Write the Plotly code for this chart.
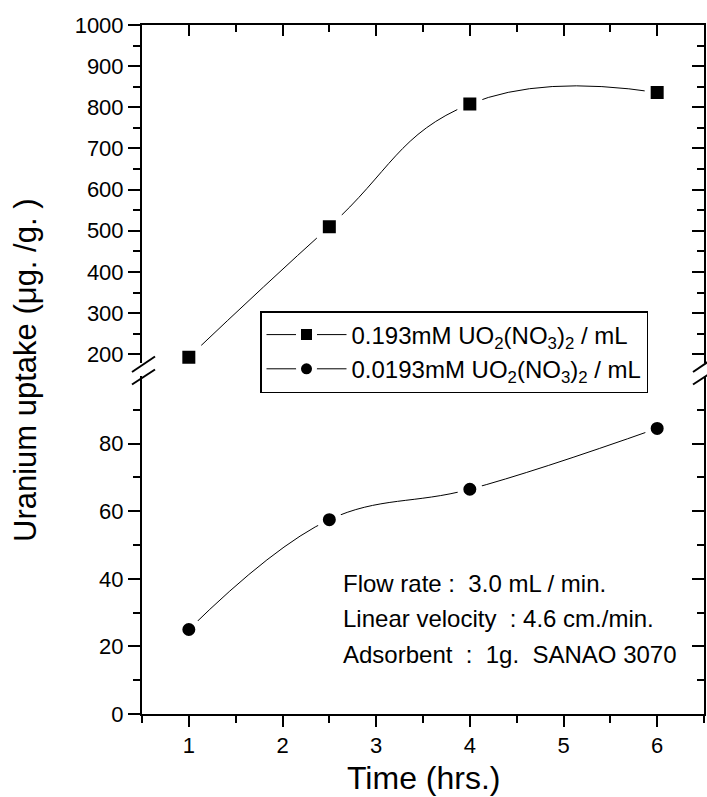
import plotly.graph_objects as go

# ---- data ----
time_hrs = [1, 2.5, 4, 6]
uptake_high = [193, 510, 808, 836]     # 0.193 mM series (upper panel)
uptake_low = [25, 57.5, 66.5, 84.5]    # 0.0193 mM series (lower panel)
name_high = "0.193mM UO<sub>2</sub>(NO<sub>3</sub>)<sub>2</sub> / mL"
name_low = "0.0193mM UO<sub>2</sub>(NO<sub>3</sub>)<sub>2</sub> / mL"
x_ticks = [1, 2, 3, 4, 5, 6]
x_minor = [0.5, 1.5, 2.5, 3.5, 4.5, 5.5, 6.5]
low_ticks = [0, 20, 40, 60, 80]
low_minor = [10, 30, 50, 70, 90]
high_ticks = [200, 300, 400, 500, 600, 700, 800, 900, 1000]
high_minor = [250, 350, 450, 550, 650, 750, 850, 950]
notes = ["Flow rate :\u00a0 3.0 mL / min.",
         "Linear velocity\u00a0 : 4.6 cm./min.",
         "Adsorbent\u00a0 :\u00a0 1g.\u00a0 SANAO 3070"]

W, H = 707, 797
L, R, T, B = 142, 3, 25, 83
PW, PH = W - L - R, H - T - B
FONT = "Arial, Liberation Sans, sans-serif"


def px(xp):
    return (xp - L) / PW


def py(yp):
    return (H - B - yp) / PH


low_dom = [0, py(376)]
high_dom = [py(362.5), 1]

fig = go.Figure()
mk_line = dict(color="white", width=6)
fig.add_trace(go.Scatter(
    x=time_hrs, y=uptake_high, xaxis="x", yaxis="y2", name=name_high,
    mode="lines+markers", line=dict(color="black", width=1, shape="spline", smoothing=1.3),
    marker=dict(symbol="square", size=19, color="black", line=mk_line), cliponaxis=False))
fig.add_trace(go.Scatter(
    x=time_hrs, y=uptake_low, xaxis="x", yaxis="y", name=name_low,
    mode="lines+markers", line=dict(color="black", width=1, shape="spline", smoothing=1.1),
    marker=dict(symbol="circle", size=19, color="black", line=mk_line), cliponaxis=False))
# empty traces so the mirror axes are drawn
fig.add_trace(go.Scatter(x=[], y=[], xaxis="x2", yaxis="y4", showlegend=False))
fig.add_trace(go.Scatter(x=[], y=[], xaxis="x", yaxis="y3", showlegend=False))

ax_common = dict(showline=True, linecolor="black", linewidth=2, showgrid=False,
                 zeroline=False, tickcolor="black", tickwidth=2,
                 tickfont=dict(family=FONT, size=22, color="black"))

fig.update_layout(
    width=W, height=H, margin=dict(l=L, r=R, t=T, b=B),
    paper_bgcolor="white", plot_bgcolor="white",
    font=dict(family=FONT, color="black"),
    xaxis=dict(range=[0.5, 6.5], anchor="y", tickvals=x_ticks, ticks="outside", ticklen=11,
               minor=dict(tickvals=x_minor, ticks="outside", ticklen=7, tickcolor="black", tickwidth=2),
               **ax_common),
    xaxis2=dict(range=[0.5, 6.5], anchor="y2", overlaying="x", side="top", tickvals=x_ticks,
                ticks="inside", ticklen=11, showticklabels=False,
                minor=dict(tickvals=x_minor, ticks="inside", ticklen=7, tickcolor="black", tickwidth=2),
                **ax_common),
    yaxis=dict(domain=low_dom, range=[0, 100], anchor="x", tickvals=low_ticks, ticks="outside",
               ticklen=12, minor=dict(tickvals=low_minor, ticks="outside", ticklen=7,
                                       tickcolor="black", tickwidth=2), **ax_common),
    yaxis2=dict(domain=high_dom, range=[180, 1000], anchor="x", tickvals=high_ticks,
                ticks="outside", ticklen=12,
                minor=dict(tickvals=high_minor, ticks="outside", ticklen=7,
                           tickcolor="black", tickwidth=2), **ax_common),
    yaxis3=dict(domain=low_dom, range=[0, 100], anchor="x", overlaying="y", side="right",
                tickvals=low_ticks, ticks="inside", ticklen=12, showticklabels=False,
                minor=dict(tickvals=low_minor, ticks="inside", ticklen=7,
                           tickcolor="black", tickwidth=2), **ax_common),
    yaxis4=dict(domain=high_dom, range=[180, 1000], anchor="x", overlaying="y2", side="right",
                tickvals=high_ticks, ticks="inside", ticklen=12, showticklabels=False,
                minor=dict(tickvals=high_minor, ticks="inside", ticklen=7,
                           tickcolor="black", tickwidth=2), **ax_common),
    legend=dict(x=px(260), y=py(311), xanchor="left", yanchor="top",
                bgcolor="white", bordercolor="black", borderwidth=1.5,
                entrywidth=500, entrywidthmode="pixels", itemwidth=80,
                font=dict(family=FONT, size=24, color="black"), tracegroupgap=6),
    showlegend=True,
)

# axis titles
fig.add_annotation(text="Uranium uptake (μg. /g. )", xref="paper", yref="paper",
                   x=px(25), y=py(370), textangle=-90, showarrow=False,
                   xanchor="center", yanchor="middle",
                   font=dict(family=FONT, size=31, color="black"))
fig.add_annotation(text="Time (hrs.)", xref="paper", yref="paper",
                   x=px(423), y=py(778), showarrow=False, xanchor="center", yanchor="middle",
                   font=dict(family=FONT, size=32, color="black"))

# condition notes
for i, t in enumerate(notes):
    fig.add_annotation(text=t, xref="paper", yref="paper", x=px(341), y=py(583 + 35.5 * i),
                       showarrow=False, xanchor="left", yanchor="middle",
                       font=dict(family=FONT, size=24, color="black"))

# axis-break marks on both sides
for xa in (143, 704):
    for (y1, y2) in ((372, 356.5), (384.5, 369.5)):
        fig.add_shape(type="line", xref="paper", yref="paper",
                      x0=px(xa - 11), y0=py(y1), x1=px(xa + 12), y1=py(y2),
                      line=dict(color="black", width=2))

fig.write_html("out.html")
